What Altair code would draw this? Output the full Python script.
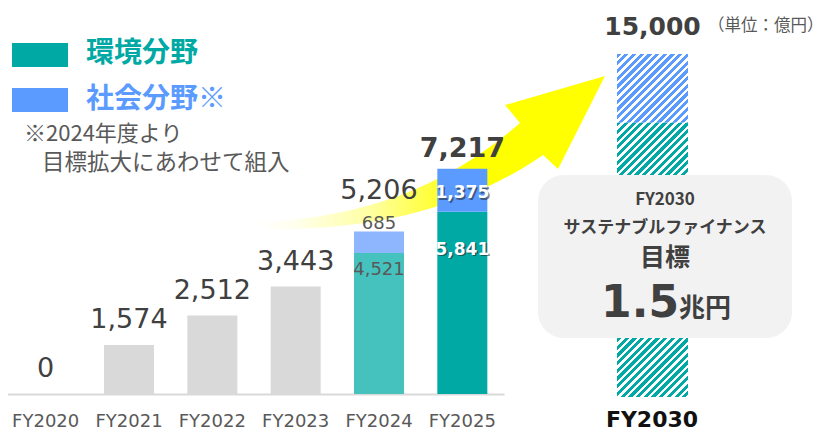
import math
import altair as alt
import pandas as pd

# ---------------- data ----------------
years = ["FY2020", "FY2021", "FY2022", "FY2023", "FY2024", "FY2025"]
totals = [0, 1574, 2512, 3443, 5206, 7217]
env_vals = {"FY2024": 4521, "FY2025": 5841}
soc_vals = {"FY2024": 685, "FY2025": 1375}

target_year = "FY2030"
target_total = 15000
target_env = 12000
target_soc = 3000

legend_labels = ["環境分野", "社会分野※"]
note_lines = ["※2024年度より", "目標拡大にあわせて組入"]
unit_label = "（単位：億円）"
box_lines = ["FY2030", "サステナブルファイナンス", "目標"]
box_value = "1.5"
box_unit = "兆円"

# ---------------- colours / fonts ----------------
C_PAST = "#d9d9d9"
C_ENV = "#00a9a4"
C_SOC = "#5b9bff"
C_ENV_L = "#45c1be"
C_SOC_L = "#8db6ff"
TXT = "#404040"
TXT2 = "#595959"
LAT = "DejaVu Sans"
JP = "Noto Sans CJK JP"

rows = []
for y, t in zip(years, totals):
    if y in env_vals:
        light = y == "FY2024"
        e, s = env_vals[y], soc_vals[y]
        rows.append(dict(year=y, seg="env", start=0, end=e, value=e, mid=e / 2,
                         key="env_l" if light else "env"))
        rows.append(dict(year=y, seg="soc", start=e, end=e + s, value=s, mid=e + s / 2,
                         key="soc_l" if light else "soc"))
    else:
        rows.append(dict(year=y, seg="past", start=0, end=t, value=t, mid=t / 2, key="past"))
seg_df = pd.DataFrame(rows)
tot_df = pd.DataFrame({"year": years, "total": totals})

tgt_df = pd.DataFrame({
    "year": [target_year, target_year],
    "seg": ["env", "soc"],
    "start": [0, target_env],
    "end": [target_env, target_env + target_soc],
})
one = pd.DataFrame({"k": [0]})

# ---------------- main bars ----------------
x_main = alt.X(
    "year:N",
    scale=alt.Scale(domain=years, range=[-4, 496], paddingInner=0.4, paddingOuter=0.2),
    axis=alt.Axis(title=None, ticks=False, grid=False, domainColor="#d9d9d9", domainWidth=2,
                  labelFontSize=18, labelColor=TXT2, labelFont=LAT, labelPadding=18,
                  labelAngle=0),
)
y_scale = alt.Scale(domain=[0, 12370], nice=False, zero=True)

bars = alt.Chart(seg_df).mark_bar().encode(
    x=x_main,
    y=alt.Y("start:Q", scale=y_scale, axis=None),
    y2="end:Q",
    color=alt.Color("key:N", legend=None,
                    scale=alt.Scale(domain=["past", "env_l", "soc_l", "env", "soc"],
                                    range=[C_PAST, C_ENV_L, C_SOC_L, C_ENV, C_SOC])),
)

def tot_text(filter_expr, dy, bold=False):
    return alt.Chart(tot_df).transform_filter(filter_expr).mark_text(
        font=LAT, fontSize=27, color=TXT, dy=dy, baseline="alphabetic",
        fontWeight="bold" if bold else "normal",
    ).encode(x=alt.X("year:N"), y=alt.Y("total:Q"), text=alt.Text("total:Q", format=","))

tot_plain = tot_text("datum.year != 'FY2024' && datum.year != 'FY2025'", -17)
tot_2024 = tot_text("datum.year == 'FY2024'", -33)
tot_2025 = tot_text("datum.year == 'FY2025'", -12, bold=True)

lab_685 = alt.Chart(seg_df).transform_filter(
    "datum.year == 'FY2024' && datum.seg == 'soc'"
).mark_text(font=LAT, fontSize=18, color=TXT2, dy=-3, baseline="alphabetic").encode(
    x="year:N", y="end:Q", text=alt.Text("value:Q", format=","))
lab_4521 = alt.Chart(seg_df).transform_filter(
    "datum.year == 'FY2024' && datum.seg == 'env'"
).mark_text(font=LAT, fontSize=18, color=TXT2, dy=17, baseline="middle").encode(
    x="year:N", y="end:Q", text=alt.Text("value:Q", format=","))

def white_lab(seg, field, dy):
    base = alt.Chart(seg_df).transform_filter(f"datum.year == 'FY2025' && datum.seg == '{seg}'")
    shadow = base.mark_text(font=LAT, fontSize=17, fontWeight="bold", color="#222222",
                            opacity=0.55, dx=1.5, dy=dy + 1.5, baseline="middle").encode(
        x="year:N", y=f"{field}:Q", text=alt.Text("value:Q", format=","))
    front = base.mark_text(font=LAT, fontSize=17, fontWeight="bold", color="#ffffff",
                           dy=dy, baseline="middle").encode(
        x="year:N", y=f"{field}:Q", text=alt.Text("value:Q", format=","))
    return [shadow, front]

main = alt.layer(bars, tot_plain, tot_2024, tot_2025, lab_685, lab_4521,
                 *white_lab("soc", "mid", 3), *white_lab("env", "end", 38))

# ---------------- FY2030 hatched target bar ----------------
def hatch(color, w, h, period=5.45, duty=0.55):
    L = (w + h) / math.sqrt(2)
    k = (w + h) / (w * w + h * h)
    n = int(L / period) + 1
    stops = []
    for i in range(n):
        a = min(i * period / L, 1)
        b = min((i + duty) * period / L, 1)
        c = min((i + 1) * period / L, 1)
        stops += [(color, a), (color, b), ("#ffffff", b), ("#ffffff", c)]
    return alt.LinearGradient(
        gradient="linear",
        stops=[alt.GradientStop(color=cc, offset=o) for cc, o in stops],
        x1=0, y1=0, x2=k * w, y2=k * h,
    )

x_t = alt.X("year:N", scale=alt.Scale(domain=[target_year], range=[609, 680],
                                      paddingInner=0, paddingOuter=0), axis=None)
y_t = alt.Y("start:Q", scale=alt.Scale(domain=[0, target_total], range=[389, 46], nice=False),
            axis=None)
t_env = alt.Chart(tgt_df).transform_filter("datum.seg == 'env'").mark_bar(
    fill=hatch(C_ENV, 71, 274.4), strokeWidth=0).encode(x=x_t, y=y_t, y2="end:Q")
t_soc = alt.Chart(tgt_df).transform_filter("datum.seg == 'soc'").mark_bar(
    fill=hatch(C_SOC, 71, 68.6), strokeWidth=0).encode(x=x_t, y=y_t, y2="end:Q")
t_lab = alt.Chart(pd.DataFrame({"year": [target_year], "total": [target_total]})).mark_text(
    font=LAT, fontSize=25, fontWeight="bold", color=TXT, dy=-19, baseline="alphabetic"
).encode(x=alt.X("year:N"), y=alt.Y("total:Q"), text=alt.Text("total:Q", format=","))
target = alt.layer(t_env, t_soc, t_lab)

# ---------------- decorations ----------------
arrow_path = ("M -0.9667 0.3861 C -0.2833 0.3639 0.1611 0.125 0.4944 -0.1639 "
              "L 0.4111 -0.2639 L 0.9667 -0.425 L 0.7056 0.0917 L 0.6222 0.0139 "
              "C 0.2167 0.2917 -0.2833 0.4417 -0.9667 0.425 Z")
arrow_grad = alt.LinearGradient(
    gradient="linear", x1=0, y1=0, x2=1, y2=0,
    stops=[alt.GradientStop(color="#ffffff", offset=0),
           alt.GradientStop(color="#fffff0", offset=0.1),
           alt.GradientStop(color="#ffffa0", offset=0.33),
           alt.GradientStop(color="#ffff00", offset=0.6),
           alt.GradientStop(color="#ffff00", offset=1)],
)
arrow = alt.Chart(one).mark_point(
    shape=arrow_path, size=360 * 360, filled=True, fill=arrow_grad, strokeWidth=0, opacity=1
).encode(x=alt.value(423), y=alt.value(144.5))

box = alt.Chart(one).mark_rect(fill="#f2f2f2", cornerRadius=26).encode(
    x=alt.value(530), x2=alt.value(784), y=alt.value(167), y2=alt.value(330))

def txt(s, x, y, size, color, font=JP, bold=False, align="left", baseline="middle"):
    return alt.Chart(one).mark_text(
        text=s, font=font, fontSize=size, color=color, align=align, baseline=baseline,
        fontWeight="bold" if bold else "normal",
    ).encode(x=alt.value(x), y=alt.value(y))

leg_env = alt.Chart(one).mark_rect(color=C_ENV).encode(
    x=alt.value(4), x2=alt.value(60), y=alt.value(35), y2=alt.value(59))
leg_soc = alt.Chart(one).mark_rect(color=C_SOC).encode(
    x=alt.value(4), x2=alt.value(60), y=alt.value(80), y2=alt.value(104))

texts = [
    txt(legend_labels[0], 78, 46, 28, C_ENV, bold=True),
    txt(legend_labels[1], 78, 92, 28, C_SOC, bold=True),
    txt(note_lines[0], 16, 126, 22, TXT2),
    txt(note_lines[1], 34, 155, 22.5, TXT2),
    txt(unit_label, 700, 18, 16.5, TXT2),
    txt(box_lines[0], 657, 192, 17, TXT, bold=True, align="center"),
    txt(box_lines[1], 657, 220, 17, TXT, bold=True, align="center"),
    txt(box_lines[2], 657, 250, 25, TXT, bold=True, align="center"),
    txt(box_value, 671, 309, 44, TXT, font=LAT, bold=True, align="right", baseline="alphabetic"),
    txt(box_unit, 671, 309, 26, TXT, bold=True, baseline="alphabetic"),
    txt(target_year, 644, 412, 22, "#111111", font=LAT, bold=True, align="center"),
]

chart = alt.layer(
    arrow, main, target, box, leg_env, leg_soc, *texts
).resolve_scale(x="independent", y="independent").properties(
    width=817, height=386,
    padding={"left": 0, "top": 0, "right": 0, "bottom": 38},
    autosize=alt.AutoSizeParams(type="none"),
).configure_view(stroke=None)

chart.save("out.html", embed_options={"renderer": "svg", "actions": False})
